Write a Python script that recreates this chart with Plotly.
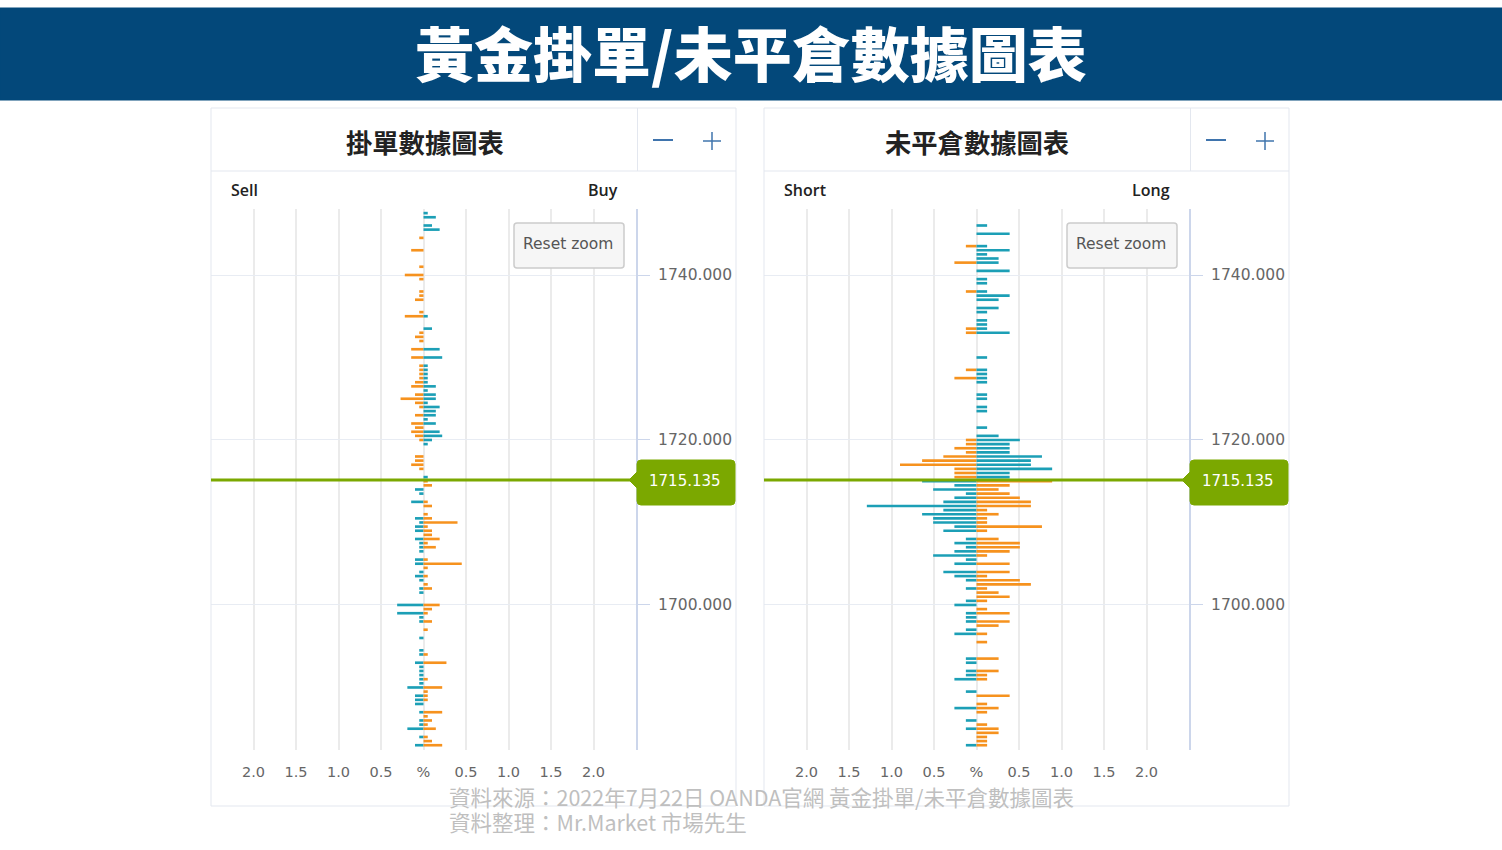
"""Gold order book / open position chart, two mirrored percent panels."""

import plotly.graph_objects as go

W, H = 1502, 850

# ---------------------------------------------------------------------------
# Data: percent of orders and positions per price level
# ---------------------------------------------------------------------------
CURRENT_PRICE = 1715.135
PRICE_TICKS = [1740, 1720, 1700]
PERCENT_TICKS = [-2.0, -1.5, -1.0, -0.5, 0, 0.5, 1.0, 1.5, 2.0]
PERCENT_LABELS = ["2.0", "1.5", "1.0", "0.5", "%", "0.5", "1.0", "1.5", "2.0"]

order_levels = [
    1747.5, 1747, 1746, 1745.5, 1744.5, 1743, 1741, 1740, 1739.5, 1738,
    1737.5, 1737, 1735.5, 1735, 1733.5, 1733, 1732.5, 1732, 1731, 1730,
    1729, 1728.5, 1728, 1727.5, 1727, 1726.5, 1726, 1725.5, 1725, 1724.5,
    1724, 1723.5, 1723, 1722.5, 1722, 1721.5, 1721, 1720.5, 1720, 1719.5,
    1718, 1717.5, 1717, 1716.5, 1715.5, 1715, 1714.5, 1714, 1713.5, 1712.5,
    1712, 1711, 1710.5, 1710, 1709.5, 1709, 1708.5, 1708, 1707.5, 1707,
    1706.5, 1705.5, 1705, 1704.5, 1704, 1703.5, 1703, 1702.5, 1702, 1701.5,
    1700, 1699.5, 1699, 1698.5, 1698, 1697, 1696, 1694.5, 1694, 1693,
    1692.5, 1692, 1691.5, 1691, 1690.5, 1690, 1689.5, 1689, 1688.5, 1688,
    1687, 1686.5, 1686, 1685.5, 1685, 1684, 1683.5, 1683,
]
order_sell = [
    0, 0, 0, 0, .05, .145, .05, .22, .05, .05,
    .05, .1, .05, .22, 0, .05, .1, .05, .145, .145,
    .05, .05, .05, .05, .1, .145, 0, .1, .27, .1,
    .05, 0, .1, 0, .145, .1, .145, .1, .05, 0,
    .1, .1, .145, .05, 0, 0, 0, .1, .05, .145,
    0, 0, .1, .05, .1, .1, 0, .1, .05, .05,
    .05, .1, .1, 0, .05, .1, .05, 0, .05, .05,
    .31, 0, .31, .05, .05, 0, .05, .05, .05, .1,
    .05, .05, .05, .05, .05, .19, 0, .1, .1, .1,
    .05, 0, .05, .05, .19, .05, 0, .1,
]
order_buy = [
    .05, .145, .1, .19, 0, 0, 0, 0, 0, 0,
    0, 0, 0, .05, .1, 0, 0, 0, .19, .22,
    .05, .05, .05, .05, .05, .145, .05, .145, .145, .05,
    .19, .145, .145, .05, .145, 0, .19, .22, .1, .05,
    0, 0, 0, 0, .05, .05, .1, 0, 0, .05,
    .1, .05, .1, .4, .05, .1, .1, .19, .05, .145,
    0, .05, .45, .05, 0, .05, 0, .05, .1, 0,
    .19, .1, .05, 0, .1, .05, 0, 0, .05, .27,
    0, 0, 0, .05, 0, .22, .05, .05, .05, 0,
    .22, .05, .1, .05, .145, .05, .1, .22,
]

position_levels = [
    1746, 1745, 1743.5, 1743, 1742.5, 1742, 1741.5, 1740.5, 1739.5, 1739,
    1738, 1737.5, 1737, 1736, 1735.5, 1734.5, 1734, 1733.5, 1733, 1730,
    1728.5, 1728, 1727.5, 1727, 1725.5, 1725, 1724, 1723.5, 1721.5, 1720.5,
    1720, 1719.5, 1719, 1718.5, 1718, 1717.5, 1717, 1716.5, 1716, 1715.5,
    1715, 1714.5, 1714, 1713.5, 1713, 1712.5, 1712, 1711.5, 1711, 1710.5,
    1710, 1709.5, 1709, 1708, 1707.5, 1707, 1706.5, 1706, 1705.5, 1705,
    1704, 1703.5, 1703, 1702.5, 1702, 1701.5, 1701, 1700.5, 1700, 1699.5,
    1699, 1698.5, 1698, 1697.5, 1697, 1696.5, 1695.5, 1693.5, 1693, 1692,
    1691.5, 1691, 1689.5, 1689, 1688, 1687.5, 1687, 1686, 1685.5, 1685,
    1684.5, 1684, 1683.5, 1683,
]
position_short = [
    0, 0, .125, 0, 0, 0, .26, 0, 0, 0,
    .125, 0, 0, 0, 0, 0, 0, .125, .125, 0,
    .125, 0, .26, 0, 0, 0, 0, 0, 0, 0,
    .125, .125, .26, .125, .39, .64, .9, .26, .26, .26,
    .64, .26, .51, .125, .26, .39, 1.29, .39, .64, .51,
    .51, .26, .39, .125, .26, .125, .26, .51, .125, .26,
    .39, .26, .125, 0, .125, 0, 0, .125, .26, 0,
    .125, .125, .125, 0, .125, .26, 0, .125, .125, .125,
    .125, .26, .125, 0, 0, .26, 0, .125, 0, .125,
    0, 0, 0, .125,
]
position_long = [
    .125, .39, .125, .39, .125, .26, .26, .39, .125, .125,
    .125, .39, .26, .26, .125, .125, .125, .125, .39, .125,
    .125, .125, .125, .125, .125, .125, .125, .125, .125, .26,
    .51, .39, .39, .39, .77, .64, .64, .89, .39, .39,
    .89, .39, .26, .39, .51, .64, .64, .125, .26, .125,
    .125, .77, .125, .26, .51, .51, .39, .125, 0, .39,
    .39, .125, .51, .64, .125, .26, .39, .125, 0, .125,
    .39, 0, .39, .26, 0, .125, .125, .26, 0, .26,
    .125, .125, 0, .39, .125, .26, .125, 0, .125, .26,
    .26, .125, .125, .125,
]

# ---------------------------------------------------------------------------
# Style
# ---------------------------------------------------------------------------
TEAL = "#1c9fb6"
ORANGE = "#f6921e"
GREEN = "#7ba800"
BANNER = "#03487a"
BORDER = "#e3e7ef"
GRID = "#ebebeb"
AXIS_LINE = "#ccd6eb"
LABEL = "#666666"
BLUE = "#3f74ad"
CJK = "Noto Sans CJK TC"
LATIN = "DejaVu Sans"


def fx(x):
    return x / W


def fy(y):
    return 1 - y / H


def rect(x0, y0, x1, y1, fill="rgba(0,0,0,0)", line=BORDER, width=1, layer="above"):
    return dict(type="rect", xref="paper", yref="paper", x0=fx(x0), x1=fx(x1),
                y0=fy(y0), y1=fy(y1), fillcolor=fill,
                line=dict(color=line, width=width), layer=layer)


def seg(x0, y0, x1, y1, color=BORDER, width=1):
    return dict(type="line", xref="paper", yref="paper", x0=fx(x0), x1=fx(x1),
                y0=fy(y0), y1=fy(y1), line=dict(color=color, width=width))


def text(s, x, y, size, color="#222222", anchor="center", family=LATIN, weight=None):
    return dict(text=s, xref="paper", yref="paper", x=fx(x), y=fy(y), showarrow=False,
                xanchor=anchor, yanchor="middle",
                font=dict(family=family, size=size, color=color, weight=weight))


def rounded(left, top, right, bottom, r, fill, line, width=1, pointer=False):
    # rounded box, optionally with a small pointer on its left edge (price tag)
    mid = 480
    pts = [
        f"M{fx(left + r)},{fy(top)}",
        f"L{fx(right - r)},{fy(top)}",
        f"Q{fx(right)},{fy(top)} {fx(right)},{fy(top + r)}",
        f"L{fx(right)},{fy(bottom - r)}",
        f"Q{fx(right)},{fy(bottom)} {fx(right - r)},{fy(bottom)}",
        f"L{fx(left + r)},{fy(bottom)}",
        f"Q{fx(left)},{fy(bottom)} {fx(left)},{fy(bottom - r)}",
    ]
    if pointer:
        pts += [
            f"L{fx(left)},{fy(mid + 8)}",
            f"L{fx(left - 8)},{fy(mid)}",
            f"L{fx(left)},{fy(mid - 8)}",
        ]
    pts += [
        f"L{fx(left)},{fy(top + r)}",
        f"Q{fx(left)},{fy(top)} {fx(left + r)},{fy(top)}",
        "Z",
    ]
    return dict(type="path", xref="paper", yref="paper", path=" ".join(pts),
                fillcolor=fill, line=dict(color=line, width=width))


fig = go.Figure()
shapes = [rect(0, 8, W, 100, fill=BANNER, line=BANNER, layer="below")]
annotations = [text("黃金掛單/未平倉數據圖表", 751, 51, 59, "white", family=CJK, weight=900)]


def add_panel(suffix, left, levels, left_vals, right_vals, title, title_x, side_left, side_right, right_label_x):
    """One mirrored bar panel; bars change colour at the current price."""
    above_left = [ORANGE if p > CURRENT_PRICE else TEAL for p in levels]
    above_right = [TEAL if p > CURRENT_PRICE else ORANGE for p in levels]
    xa, ya = f"x{suffix}", f"y{suffix}"
    fig.add_trace(go.Bar(y=levels, x=[-v for v in left_vals], orientation="h", width=0.32,
                         marker=dict(color=above_left, line_width=0), xaxis=xa, yaxis=ya,
                         hoverinfo="skip", showlegend=False))
    fig.add_trace(go.Bar(y=levels, x=right_vals, orientation="h", width=0.32,
                         marker=dict(color=above_right, line_width=0), xaxis=xa, yaxis=ya,
                         hoverinfo="skip", showlegend=False))

    plot_right = left + 425
    fig.update_layout({
        f"xaxis{suffix}": dict(
            domain=[fx(left), fx(plot_right)], range=[-2.5, 2.5], anchor=ya,
            tickvals=PERCENT_TICKS, ticktext=PERCENT_LABELS,
            tickfont=dict(family=LATIN, size=14.5, color=LABEL),
            gridcolor=GRID, gridwidth=2, zeroline=True, zerolinecolor=GRID, zerolinewidth=2,
            showline=False, ticks="", ticklabelstandoff=11, fixedrange=True,
        ),
        f"yaxis{suffix}": dict(
            domain=[fy(750), fy(209)], range=[1682.42, 1748.0], anchor=xa, side="right",
            tickvals=PRICE_TICKS, ticktext=[f"{p:.3f}" for p in PRICE_TICKS],
            tickfont=dict(family=LATIN, size=15.5, color=LABEL),
            gridcolor="#e8ecf3", gridwidth=1, zeroline=False,
            showline=True, linecolor=AXIS_LINE, linewidth=2,
            ticks="outside", ticklen=12, tickcolor=AXIS_LINE, ticklabelstandoff=5,
            fixedrange=True,
        ),
    })

    # panel frame and header
    shapes.extend([
        rect(left, 108, left + 525, 806),
        seg(left, 171, left + 525, 171),
        seg(plot_right + 1.5, 108, plot_right + 1.5, 171),
        # zoom buttons
        seg(left + 442, 140, left + 462, 140, BLUE, 2),
        seg(left + 492, 141, left + 510, 141, BLUE, 1.5),
        seg(left + 501, 132, left + 501, 150, BLUE, 1.5),
        # reset zoom box
        rounded(left + 303, 223, left + 413, 268, 3, "#f6f6f6", "#cccccc", 1.5),
        # current price
        dict(type="line", xref="paper", yref=ya, x0=fx(left), x1=fx(plot_right),
             y0=CURRENT_PRICE, y1=CURRENT_PRICE, line=dict(color=GREEN, width=3)),
        rounded(plot_right + 1, 460, plot_right + 99, 505, 4, GREEN, GREEN, pointer=True),
    ])
    annotations.extend([
        text(title, title_x, 141, 26.3, "#222222", family=CJK, weight=700),
        text(side_left, left + 18, 190, 16, "#222222", "left", "Open Sans", 600),
        text(side_right, right_label_x, 190, 16, "#222222", "right", "Open Sans", 600),
        text("Reset zoom", left + 357, 244, 15.5, "#555555"),
        text(f"{CURRENT_PRICE:.3f}", plot_right + 49, 481, 15, "white"),
    ])


add_panel("", 211, order_levels, order_sell, order_buy,
          "掛單數據圖表", 424.5, "Sell", "Buy", 620)
add_panel("2", 764, position_levels, position_short, position_long,
          "未平倉數據圖表", 977, "Short", "Long", 1172)

annotations.extend([
    text("資料來源\uff1a2022年7月22日 OANDA官網 黃金掛單/未平倉數據圖表", 447, 796, 21.5, "#bfbfbf", "left", CJK),
    text("資料整理\uff1aMr.Market 市場先生", 447, 821, 21.5, "#bfbfbf", "left", CJK),
])

fig.update_layout(
    width=W, height=H, margin=dict(l=0, r=0, t=0, b=0),
    paper_bgcolor="white", plot_bgcolor="white",
    barmode="overlay", showlegend=False,
    shapes=shapes, annotations=annotations,
)

fig.write_html(
    "out.html",
    config=dict(displayModeBar=False),
    post_script="document.body.style.margin='0';document.body.style.overflow='hidden';",
)
